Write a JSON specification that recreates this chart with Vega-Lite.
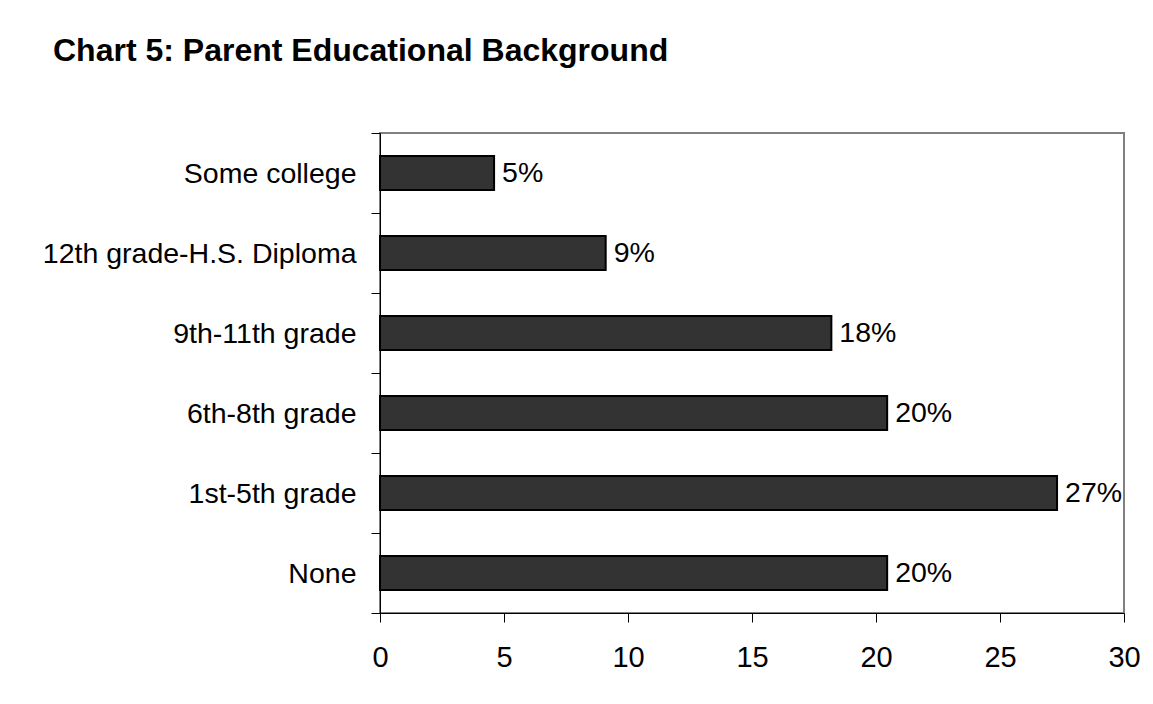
{
  "$schema": "https://vega.github.io/schema/vega-lite/v6.json",
  "autosize": "none",
  "width": 744,
  "height": 480,
  "padding": {"left": 380, "top": 133, "right": 29, "bottom": 91},
  "background": "white",
  "title": {
    "text": "Chart 5: Parent Educational Background",
    "anchor": "start",
    "frame": "group",
    "dx": -327,
    "offset": 51,
    "font": "Liberation Sans",
    "fontSize": 32,
    "fontWeight": "bold",
    "color": "black"
  },
  "data": {
    "values": [
      {"level": "Some college", "percent": 4.6, "label": "5%"},
      {"level": "12th grade-H.S. Diploma", "percent": 9.1, "label": "9%"},
      {"level": "9th-11th grade", "percent": 18.2, "label": "18%"},
      {"level": "6th-8th grade", "percent": 20.45, "label": "20%"},
      {"level": "1st-5th grade", "percent": 27.3, "label": "27%"},
      {"level": "None", "percent": 20.45, "label": "20%"}
    ]
  },
  "encoding": {
    "y": {
      "field": "level",
      "type": "nominal",
      "sort": ["Some college", "12th grade-H.S. Diploma", "9th-11th grade", "6th-8th grade", "1st-5th grade", "None"],
      "scale": {"paddingInner": 0, "paddingOuter": 0},
      "axis": {
        "title": null,
        "tickBand": "extent",
        "tickSize": 9,
        "tickColor": "black",
        "domainColor": "black",
        "labelFont": "Liberation Sans",
        "labelFontSize": 28.5,
        "labelColor": "black",
        "labelPadding": 15,
        "labelLimit": 400
      }
    },
    "x": {
      "field": "percent",
      "type": "quantitative",
      "scale": {"domain": [0, 30], "nice": false},
      "axis": {
        "title": null,
        "values": [0, 5, 10, 15, 20, 25, 30],
        "grid": false,
        "tickSize": 9,
        "tickColor": "black",
        "domainColor": "black",
        "labelFont": "Liberation Sans",
        "labelFontSize": 29,
        "labelColor": "black",
        "labelPadding": 21,
        "labelFlush": false
      }
    }
  },
  "layer": [
    {
      "mark": {"type": "bar", "height": {"band": 0.425}, "fill": "#333333", "stroke": "black", "strokeWidth": 2}
    },
    {
      "mark": {"type": "text", "align": "left", "baseline": "middle", "dx": 8, "font": "Liberation Sans", "fontSize": 28.5, "color": "black"},
      "encoding": {"text": {"field": "label"}}
    }
  ],
  "config": {
    "view": {"stroke": "#808080", "strokeWidth": 2}
  }
}
